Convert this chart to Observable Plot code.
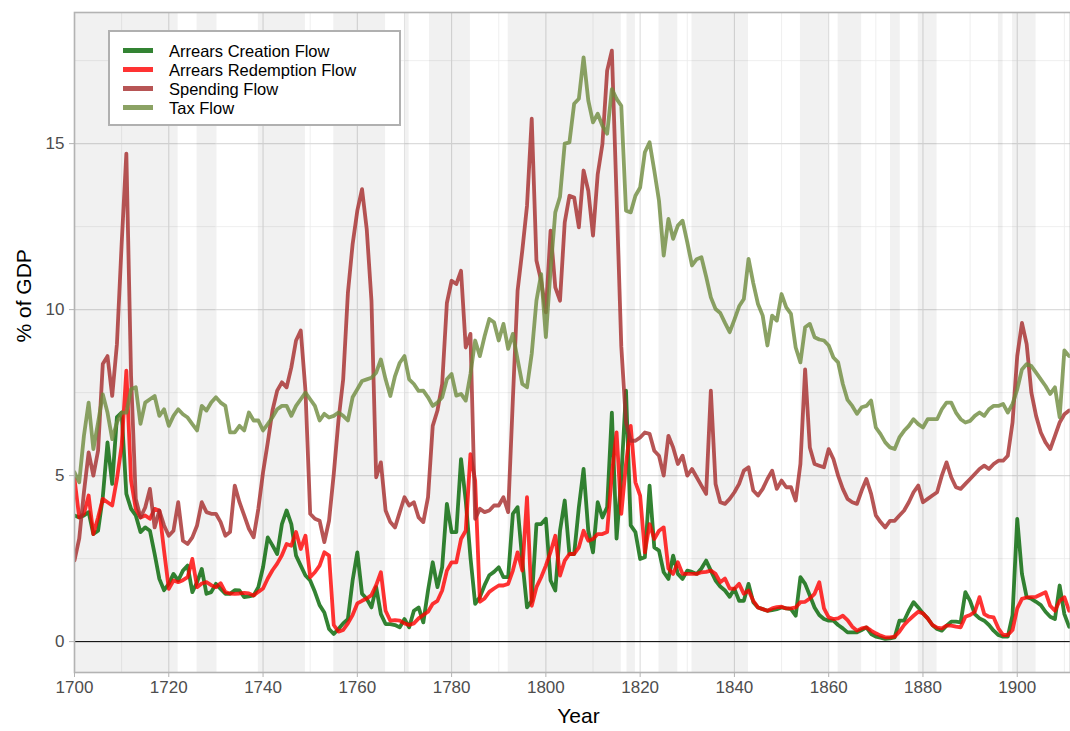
<!DOCTYPE html>
<html>
<head>
<meta charset="utf-8">
<script src="https://cdn.jsdelivr.net/npm/d3@7"></script>
<script src="https://cdn.jsdelivr.net/npm/@observablehq/plot@0.6"></script>
<style>
  body { margin: 0; background: #fff; }
  #wrap { position: relative; width: 1070px; height: 731px; overflow: hidden; font-family: "Liberation Sans", Arial, sans-serif; }
  #legend { position: absolute; left: 108px; top: 30px; width: 293px; height: 96px; box-sizing: border-box; border: 2px solid #b0b0b0; background: #fff; }
  .key { position: absolute; height: 4.5px; width: 30px; }
  .lab { position: absolute; font-size: 16.5px; line-height: 18px; height: 18px; color: #000; white-space: nowrap; }
</style>
</head>
<body>
<div id="wrap"></div>
<script>
// ---------------- data ----------------
const firstYear = 1700;
const lastYear = 1911;

const seriesNames = ["Arrears Creation Flow", "Arrears Redemption Flow", "Spending Flow", "Tax Flow"];
const seriesColors = ["#006400", "#ff0000", "#a52a2a", "#6e8b3d"];

const arrearsCreation = [
  3.8, 3.74, 3.8, 3.9, 3.24, 3.34, 4.35, 6.0, 4.75, 6.76,
  6.9, 4.45, 4.0, 3.8, 3.3, 3.44, 3.34, 2.64, 1.89, 1.55,
  1.74, 2.04, 1.84, 2.14, 2.29, 1.49, 1.79, 2.19, 1.44, 1.49,
  1.74, 1.59, 1.44, 1.44, 1.55, 1.54, 1.34, 1.36, 1.39, 1.64,
  2.24, 3.14, 2.9, 2.64, 3.54, 3.95, 3.54, 2.59, 2.29, 1.99,
  1.84, 1.5, 1.1, 0.88, 0.38, 0.23, 0.38, 0.55, 0.68, 1.84,
  2.69, 1.44, 1.29, 1.03, 1.64, 0.83, 0.53, 0.53, 0.5, 0.43,
  0.68, 0.43, 0.93, 1.03, 0.58, 1.54, 2.39, 1.64, 2.24, 4.15,
  3.3, 3.3, 5.5, 4.25, 2.54, 1.14, 1.34, 1.7, 2.0, 2.1,
  2.24, 1.94, 1.94, 3.85, 4.05, 2.44, 1.03, 1.23, 3.54, 3.54,
  3.7, 1.84, 1.54, 3.34, 4.25, 2.64, 2.64, 4.05, 5.2, 3.34,
  2.69, 4.2, 3.74, 4.05, 6.9, 3.1, 4.95, 7.56, 3.5, 3.3,
  2.49, 2.54, 4.7, 2.84, 2.74, 2.09, 1.89, 2.59, 2.04, 1.89,
  2.14, 2.1, 2.04, 2.2, 2.44, 2.14, 1.84, 1.66, 1.54, 1.35,
  1.59, 1.23, 1.23, 1.74, 1.19, 1.03, 0.98, 0.93, 0.95, 0.98,
  1.03, 1.0, 0.98, 0.78, 1.94, 1.74, 1.39, 1.03, 0.8, 0.68,
  0.63, 0.63, 0.5, 0.4, 0.28, 0.28, 0.28, 0.35, 0.43, 0.23,
  0.15, 0.12, 0.08, 0.1, 0.13, 0.63, 0.63, 0.93, 1.19, 1.03,
  0.85, 0.7, 0.5, 0.38, 0.33, 0.48, 0.6, 0.6, 0.58, 1.49,
  1.23, 0.83, 0.7, 0.63, 0.5, 0.33, 0.2, 0.15, 0.15, 0.8,
  3.7, 2.04, 1.34, 1.29, 1.2, 1.1, 0.9, 0.75, 0.68, 1.69,
  0.83, 0.45
];

const arrearsRedemption = [
  4.9, 3.74, 3.85, 4.4, 3.24, 3.74, 4.3, 4.2, 4.1, 4.9,
  5.9, 8.16, 4.85, 4.0, 3.74, 3.8, 3.7, 4.0, 3.95, 2.74,
  1.59, 1.84, 1.79, 1.85, 1.94, 2.49, 1.64, 1.75, 1.79, 1.7,
  1.64, 1.76, 1.49, 1.45, 1.44, 1.45, 1.47, 1.45, 1.39, 1.5,
  1.6, 1.9, 2.15, 2.35, 2.6, 2.94, 2.89, 3.3, 2.79, 3.19,
  1.94, 2.09, 2.29, 2.69, 2.59, 0.5, 0.3, 0.35, 0.55, 0.8,
  1.15, 1.23, 1.3, 1.4, 1.7, 2.09, 0.93, 0.63, 0.65, 0.63,
  0.55, 0.5, 0.55, 0.7, 0.8, 0.9, 1.14, 1.23, 1.54, 2.14,
  2.39, 2.39, 3.09, 3.34, 5.65, 4.85, 1.2, 1.3, 1.5, 1.6,
  1.69, 1.69, 1.74, 2.14, 2.69, 2.14, 4.35, 1.08, 1.64, 1.94,
  2.29, 2.7, 3.19, 1.99, 2.44, 2.64, 2.64, 2.84, 3.34, 3.04,
  3.09, 3.24, 3.24, 3.3, 5.05, 6.3, 3.85, 5.35, 6.5, 4.8,
  4.4, 2.69, 3.54, 3.09, 3.34, 3.44, 2.2, 2.04, 2.39, 2.04,
  2.04, 2.04, 2.04, 2.09, 2.1, 2.14, 2.04, 1.79, 1.9, 1.6,
  1.59, 1.74, 1.44, 1.54, 1.23, 1.03, 0.98, 0.93, 1.0, 1.04,
  1.05, 1.0, 1.0, 1.03, 1.19, 1.2, 1.3, 1.44, 1.79, 1.0,
  0.73, 0.68, 0.7, 0.78, 0.65, 0.45, 0.33, 0.4, 0.43, 0.33,
  0.25, 0.18, 0.13, 0.13, 0.15, 0.3, 0.5, 0.65, 0.78, 0.9,
  0.85, 0.7, 0.5, 0.42, 0.4, 0.48, 0.48, 0.45, 0.43, 0.75,
  0.8, 0.9, 1.34, 0.83, 0.75, 0.73, 0.4, 0.2, 0.2, 0.35,
  1.0, 1.29, 1.33, 1.34, 1.35, 1.42, 1.49, 1.08, 0.93, 1.23,
  1.34, 0.93
];

const spending = [
  2.45, 3.1, 4.5, 5.7, 5.0, 5.75, 8.36, 8.6, 7.4, 8.96,
  11.97, 14.7, 8.0, 4.3, 3.74, 4.04, 4.6, 3.44, 3.95, 3.5,
  3.19, 3.34, 4.2, 3.04, 2.94, 3.14, 3.5, 4.2, 3.9, 3.85,
  3.85, 3.6, 3.19, 3.3, 4.7, 4.2, 3.8, 3.4, 3.14, 4.0,
  5.1, 6.0, 6.96, 7.56, 7.81, 7.66, 8.26, 9.07, 9.37, 7.56,
  3.85, 3.7, 3.64, 3.0, 3.64, 5.05, 6.66, 7.9, 10.5, 11.97,
  12.98, 13.63, 12.42, 10.27, 4.95, 5.4, 3.95, 3.6, 3.44, 3.9,
  4.35, 4.1, 4.2, 3.74, 3.6, 4.35, 6.5, 6.96, 7.76, 10.2,
  10.87, 10.77, 11.17, 8.86, 9.27, 3.7, 4.0, 3.9, 3.95, 4.1,
  4.1, 4.35, 3.9, 7.3, 10.57, 11.78, 13.13, 15.75, 11.48, 10.87,
  9.92, 12.38, 10.67, 10.27, 12.63, 13.43, 13.38, 12.48, 14.19, 13.58,
  12.23, 14.08, 14.99, 17.2, 17.8, 13.4, 8.9, 6.6, 6.05, 6.05,
  6.15, 6.3, 6.26, 5.75, 5.6, 5.0, 6.2, 5.85, 5.35, 5.6,
  5.0, 5.2, 4.95, 4.7, 4.45, 7.56, 4.75, 4.2, 4.15, 4.3,
  4.5, 4.75, 5.15, 5.25, 4.55, 4.4, 4.6, 4.9, 5.15, 4.6,
  4.85, 4.65, 4.65, 4.25, 5.35, 8.2, 5.85, 5.35, 5.3, 5.25,
  5.8, 5.5, 5.0, 4.6, 4.3, 4.2, 4.15, 4.55, 4.9, 4.45,
  3.8, 3.6, 3.44, 3.64, 3.64, 3.8, 3.95, 4.2, 4.5, 4.7,
  4.2, 4.3, 4.4, 4.5, 5.0, 5.4, 4.95, 4.65, 4.6, 4.75,
  4.9, 5.05, 5.2, 5.3, 5.2, 5.35, 5.45, 5.45, 5.6, 6.6,
  8.6, 9.6, 8.96, 7.5, 6.8, 6.3, 6.0, 5.8, 6.2, 6.6,
  6.85, 6.96
];

const tax = [
  5.1, 4.8, 6.2, 7.2, 5.8, 6.6, 7.45, 6.9, 6.1, 6.6,
  6.9, 6.9, 7.6, 7.66, 6.56, 7.2, 7.3, 7.4, 6.8, 7.0,
  6.5, 6.8, 7.0, 6.85, 6.75, 6.55, 6.36, 7.1, 6.96, 7.2,
  7.36, 7.2, 7.1, 6.3, 6.3, 6.5, 6.36, 6.9, 6.66, 6.66,
  6.36, 6.55, 6.76, 7.0, 7.1, 7.1, 6.8, 7.1, 7.3, 7.5,
  7.3, 7.1, 6.66, 6.86, 6.75, 6.8, 6.9, 6.8, 6.66, 7.36,
  7.6, 7.85, 7.9, 7.95, 8.1, 8.5, 7.9, 7.4, 8.0, 8.4,
  8.6, 7.9, 7.76, 7.55, 7.56, 7.36, 7.1, 7.2, 7.36, 7.9,
  8.06, 7.41, 7.46, 7.26, 8.06, 9.07, 8.6, 9.2, 9.72, 9.62,
  9.07, 9.57, 8.82, 9.27, 8.5, 7.76, 7.66, 8.67, 10.27, 11.07,
  9.17, 11.2, 12.93, 13.4, 15.0, 15.04, 16.2, 16.35, 17.6, 16.3,
  15.64, 15.9, 15.54, 15.3, 16.64, 16.35, 16.14, 12.98, 12.93, 13.43,
  13.68, 14.74, 15.04, 14.19, 13.28, 11.63, 12.73, 12.13, 12.53, 12.68,
  12.03, 11.33, 11.52, 11.58, 11.0, 10.37, 10.02, 9.9, 9.6, 9.32,
  9.7, 10.1, 10.32, 11.53, 10.8, 10.17, 9.82, 8.92, 9.82, 9.67,
  10.47, 10.07, 9.87, 8.86, 8.41, 9.47, 9.57, 9.17, 9.1, 9.07,
  8.92, 8.56, 8.41, 7.76, 7.28, 7.1, 6.86, 7.06, 7.1, 7.26,
  6.45, 6.25, 6.0, 5.85, 5.8, 6.15, 6.35, 6.5, 6.7, 6.55,
  6.45, 6.7, 6.7, 6.7, 7.0, 7.2, 7.2, 6.9, 6.7, 6.6,
  6.65, 6.8, 6.9, 6.8, 7.0, 7.1, 7.1, 7.16, 6.9, 7.16,
  7.6, 8.2, 8.36, 8.3, 8.1, 7.9, 7.7, 7.46, 7.66, 6.76,
  8.77, 8.6
];

// shaded (war) periods, in years
const warStart = [1700, 1726, 1739, 1755, 1770, 1775.3, 1792, 1817.2, 1824, 1831, 1854, 1862, 1873.1, 1879, 1896, 1899];
const warEnd   = [1722, 1730, 1749, 1766, 1771, 1784, 1816, 1819, 1828, 1843, 1860, 1867, 1875.2, 1883, 1897, 1904];

const xMajorTicks = [1700, 1720, 1740, 1760, 1780, 1800, 1820, 1840, 1860, 1880, 1900];
const xMinorTicks = [1710, 1730, 1750, 1770, 1790, 1810, 1830, 1850, 1870, 1890, 1910];
const yMajorTicks = [0, 5, 10, 15];
const yMinorTicks = [2.5, 7.5, 12.5, 17.5];

// --------------- build ----------------
const years = d3.range(firstYear, lastYear + 1);
const allSeries = [arrearsCreation, arrearsRedemption, spending, tax];
const rows = [];
allSeries.forEach((vals, i) => {
  vals.forEach((v, j) => rows.push({year: years[j], value: v, series: seriesNames[i]}));
});
const wars = warStart.map((s, i) => ({start: s, end: warEnd[i]}));

const font = "Liberation Sans, Arial, Helvetica, sans-serif";

const chart = Plot.plot({
  width: 1070,
  height: 731,
  marginLeft: 74,
  marginRight: 0,
  marginTop: 12,
  marginBottom: 59,
  style: {fontFamily: font, background: "transparent", color: "#000"},
  x: {domain: [1700, 1911.3]},
  y: {domain: [-0.93, 18.95]},
  color: {domain: seriesNames, range: seriesColors},
  marks: [
    Plot.ruleX(xMinorTicks, {stroke: "#ebebeb", strokeWidth: 0.8}),
    Plot.ruleY(yMinorTicks, {stroke: "#ebebeb", strokeWidth: 0.8}),
    Plot.ruleX(xMajorTicks, {stroke: "#dcdcdc", strokeWidth: 1.1}),
    Plot.ruleY(yMajorTicks, {stroke: "#dcdcdc", strokeWidth: 1.1}),
    Plot.rect(wars, {x1: "start", x2: "end", fill: "#000", fillOpacity: 0.055}),
    Plot.ruleY([0], {stroke: "#000", strokeWidth: 1}),
    Plot.line(rows, {
      x: "year", y: "value", z: "series", stroke: "series",
      strokeWidth: 3.8, strokeOpacity: 0.8, strokeLinejoin: "round", clip: true
    }),
    Plot.frame({stroke: "#b3b3b3", strokeWidth: 1.6}),
    Plot.axisX(xMajorTicks, {tickSize: 5, tickPadding: 3, stroke: "#b3b3b3", fill: "#4d4d4d",
      fontSize: 17, tickFormat: d => String(d), label: null}),
    Plot.axisY(yMajorTicks, {tickSize: 5, tickPadding: 5, stroke: "#b3b3b3", fill: "#4d4d4d",
      fontSize: 17, label: null}),
    Plot.text(["Year"], {frameAnchor: "bottom", dx: 6, dy: 50, fontSize: 21, fill: "#000"}),
    Plot.text(["% of GDP"], {frameAnchor: "left", dx: -50, rotate: -90, fontSize: 21, fill: "#000"})
  ]
});

const wrap = document.getElementById("wrap");
wrap.appendChild(chart);

// legend (HTML overlay inside the panel)
const legend = document.createElement("div");
legend.id = "legend";
seriesNames.forEach((name, i) => {
  const cy = 18.5 + i * 19;
  const key = document.createElement("div");
  key.className = "key";
  key.style.left = "13px";
  key.style.top = (cy - 2.25) + "px";
  key.style.background = seriesColors[i];
  key.style.opacity = 0.8;
  legend.appendChild(key);
  const lab = document.createElement("div");
  lab.className = "lab";
  lab.style.left = "59px";
  lab.style.top = (cy - 9) + "px";
  lab.textContent = name;
  legend.appendChild(lab);
});
wrap.appendChild(legend);
</script>
</body>
</html>
